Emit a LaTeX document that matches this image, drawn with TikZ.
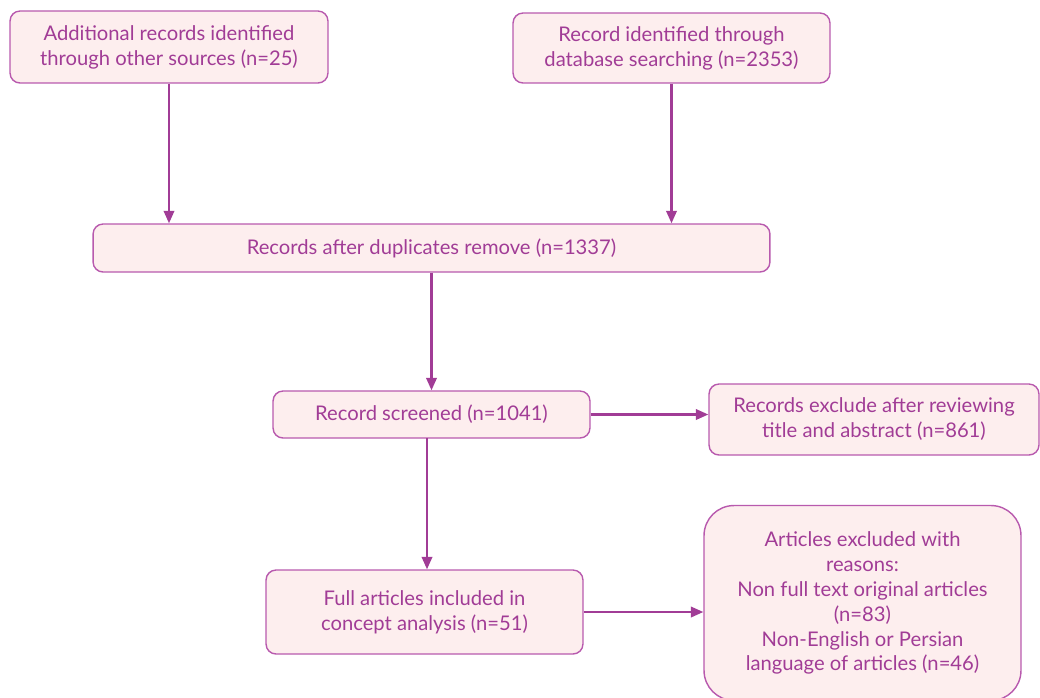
\documentclass[tikz,border=0pt]{standalone}
\usepackage{fontspec}
\setmainfont{Lato}
\usetikzlibrary{arrows.meta}
\definecolor{plum}{HTML}{A13C96}
\definecolor{plumline}{HTML}{B85AAE}
\definecolor{blush}{HTML}{FDEEEE}
\begin{document}
\begin{tikzpicture}[x=0.02cm,y=-0.02cm,
   box/.style={draw=plumline,line width=0.8pt,fill=blush,rounded corners=0.2cm,
      text=plum,align=center,inner sep=0pt,font=\fontsize{11.5}{14.2}\selectfont},
   flow/.style={draw=plum,line width=1.25pt,-{Triangle[length=0.25cm,width=0.21cm]}}]
         \useasboundingbox (0,0) rectangle (1040,697) ;
         % top row
         \node[box,minimum width=6.36cm,minimum height=1.44cm] (other) at (169,47)
         {Additional records identified\\through other sources (n=25)} ;
         \node[box,minimum width=6.34cm,minimum height=1.40cm] (dbase) at (671.5,48)
         {Record identified through\\database searching (n=2353)} ;
         % middle
         \node[box,minimum width=13.54cm,minimum height=0.96cm] (dupl) at (431.5,248)
         {Records after duplicates remove (n=1337)} ;
         \node[box,minimum width=6.34cm,minimum height=0.94cm] (screen) at (431.5,414.5)
         {Record screened (n=1041)} ;
         \node[box,minimum width=6.60cm,minimum height=1.42cm] (excl) at (874,419.5)
         {Records exclude after reviewing\\title and abstract (n=861)} ;
         % bottom
         \node[box,minimum width=6.34cm,minimum height=1.68cm] (full) at (424.5,612)
         {Full articles included in\\concept analysis (n=51)} ;
         \node[box,rounded corners=0.6cm,minimum width=6.34cm,minimum height=3.90cm] (reason) at (862.5,603)
         {Articles excluded with\\reasons:\\Non full text original articles\\(n=83)\\Non-English or Persian\\language of articles (n=46)} ;
         % arrows
         \draw[flow] (other.south) -- (other.south |- dupl.north) ;
         \draw[flow] (dbase.south) -- (dbase.south |- dupl.north) ;
         \draw[flow] (dupl.south) -- (screen.north) ;
         \draw[flow] (screen.east) -- (excl.west |- screen.east) ;
         \draw[flow] (427,438) -- (full.north -| 427,0) ;
         \draw[flow] (full.east) -- (reason.west |- full.east) ;
\end{tikzpicture}
\end{document}
